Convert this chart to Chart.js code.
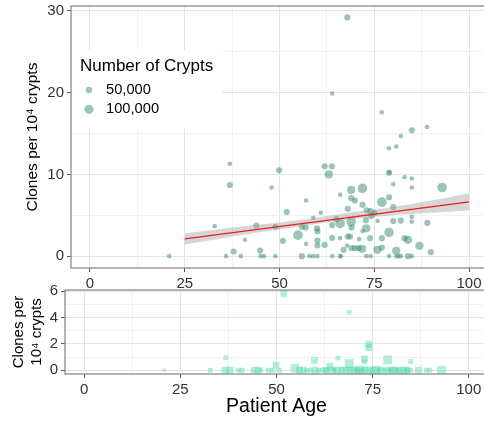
<!DOCTYPE html>
<html lang="en">
<head>
<meta charset="UTF-8">
<title>Clones per 10⁴ crypts by patient age</title>
<script src="https://cdn.jsdelivr.net/npm/chart.js"></script>
<style>
  html, body { margin: 0; padding: 0; background: #fff; overflow: hidden; }
  #wrap { position: relative; width: 484px; height: 425px; overflow: hidden; }
  canvas { position: absolute; left: 0; }
  #topChart { top: 0; }
  #bottomChart { top: 280px; }
</style>
</head>
<body>
<div id="wrap">
  <canvas id="topChart" width="488" height="292"></canvas>
  <canvas id="bottomChart" width="488" height="145"></canvas>
</div>
<script>
// upper panel: one bubble per patient
const ages = [
  20.9, 32.9, 36.9, 36.9, 35.9, 37.9, 39.8, 67.9, 63.9, 77.0,
  88.9, 84.9, 82.0, 78.9, 80.8, 49.9, 61.9, 63.8, 63.0, 78.9,
  79.0, 83.0, 84.9, 84.9, 80.0, 92.9, 47.9, 68.9, 71.9, 66.0,
  78.9, 68.9, 69.9, 57.0, 77.0, 71.9, 80.0, 68.0, 51.9, 60.9,
  73.0, 74.0, 75.0, 74.2, 84.9, 58.9, 75.9, 80.0, 82.0, 84.9,
  89.0, 65.0, 66.0, 68.9, 63.9, 72.8, 48.9, 55.9, 56.9, 59.9,
  69.0, 72.9, 71.9, 78.9, 60.0, 43.9, 40.9, 54.9, 63.9, 66.0,
  68.0, 68.6, 71.0, 73.9, 77.0, 83.0, 83.9, 50.9, 60.0, 57.0,
  60.0, 61.9, 86.9, 44.9, 66.9, 69.0, 69.9, 70.9, 71.8, 75.8,
  77.0, 80.8, 89.9, 67.8, 45.0, 45.9, 48.9, 55.9, 57.9, 58.9,
  60.0, 63.9, 66.0, 66.2, 72.9, 74.0, 78.9, 80.8, 81.4, 82.0, 83.9, 84.9
];
const clones = [
  0, 3.67, 11.3, 8.7, 0, 0.57, 0, 29.2, 19.9, 17.6,
  15.8, 15.4, 14.7, 13.2, 13.4, 10.5, 11.0, 11.0, 10.0, 10.2,
  10.3, 9.66, 9.5, 8.4, 8.8, 8.4, 8.4, 8.1, 8.3, 7.5,
  7.2, 7.1, 6.8, 6.8, 6.6, 6.3, 6.0, 5.8, 5.4, 5.3,
  5.6, 5.5, 5.26, 4.9, 4.8, 4.7, 4.3, 4.3, 4.35, 4.2,
  4.07, 4.5, 4.0, 4.2, 3.8, 4.4, 3.6, 3.6, 3.5, 3.4,
  3.5, 3.4, 3.05, 2.9, 3.05, 3.74, 2.0, 2.57, 2.24, 2.2,
  2.4, 2.4, 2.08, 2.2, 2.2, 2.2, 2.0, 1.87, 1.9, 1.5,
  1.3, 1.38, 1.26, 0.68, 0.77, 1.0, 1.0, 1.0, 0.9, 0.77,
  1.05, 0.65, 0.49, 1.3, 0, 0, 0, 0, 0, 0,
  0, 0, 0, 0, 0, 0, 0, 0, 0, 0, 0, 0
];
const crypts = [
  25000, 25000, 25000, 45000, 25000, 45000, 25000, 45000, 25000, 25000,
  25000, 45000, 25000, 25000, 25000, 45000, 45000, 45000, 80000, 45000,
  25000, 25000, 25000, 25000, 25000, 110000, 25000, 80000, 110000, 25000,
  45000, 45000, 45000, 25000, 110000, 45000, 45000, 45000, 45000, 25000,
  45000, 45000, 45000, 45000, 25000, 25000, 25000, 45000, 45000, 25000,
  45000, 45000, 110000, 110000, 45000, 45000, 45000, 45000, 45000, 45000,
  45000, 80000, 25000, 110000, 45000, 45000, 25000, 110000, 45000, 25000,
  45000, 45000, 25000, 45000, 45000, 45000, 80000, 45000, 45000, 25000,
  45000, 45000, 80000, 45000, 45000, 45000, 45000, 45000, 80000, 80000,
  45000, 80000, 45000, 25000, 25000, 25000, 25000, 45000, 25000, 25000,
  25000, 25000, 25000, 25000, 25000, 25000, 25000, 25000, 25000, 25000, 45000, 25000
];

// lower panel
const lowAges = [
  20.8, 32.8, 36.8, 36.6, 37.9, 40.1, 41.0, 44.2, 45.2, 45.9,
  47.9, 49.9, 48.9, 50.8, 51.9, 54.8, 56.0, 57.0, 57.9, 58.9,
  59.9, 60.0, 61.8, 62.9, 63.9, 64.5, 66.0, 66.0, 67.0, 68.0,
  68.9, 68.9, 69.0, 69.9, 70.9, 71.8, 72.9, 72.9, 73.0, 74.0,
  74.0, 74.0, 75.0, 75.8, 77.0, 78.0, 78.9, 78.9, 80.0, 80.8,
  82.0, 83.0, 83.9, 84.9, 84.9, 86.9, 89.0, 89.9, 92.9,
  60.9, 63.0, 65.0, 71.0, 72.0, 76.5, 79.5, 81.4, 84.0
];
const lowClones = [
  0, 0, 0.96, 0, 0, 0, 0, 0, 0, 0,
  0, 0.38, 0, 0, 5.8, 0.15, 0, 0, 0, 0,
  0.74, 0, 0, 0, 0.3, 0, 0.92, 0, 0, 0,
  4.4, 0.5, 0, 0, 0, 0, 0.85, 0.65, 0, 1.97,
  1.72, 0, 0, 0, 0, 0, 0.78, 0, 0, 0,
  0, 0, 0, 0.66, 0, 0, 0, 0, 0,
  0, 0, 0, 0, 0, 0, 0, 0, 0
];
const lowCrypts = [
  20000, 45000, 45000, 90000, 90000, 45000, 45000, 90000, 90000, 45000,
  45000, 90000, 45000, 45000, 90000, 150000, 90000, 90000, 45000, 45000,
  90000, 90000, 45000, 90000, 90000, 90000, 45000, 90000, 90000, 90000,
  45000, 150000, 90000, 90000, 90000, 150000, 90000, 45000, 90000, 90000,
  90000, 90000, 90000, 150000, 90000, 45000, 150000, 90000, 90000, 90000,
  90000, 90000, 90000, 45000, 45000, 90000, 45000, 45000, 150000,
  45000, 45000, 45000, 45000, 45000, 45000, 45000, 45000, 45000
];

// linear fit and its confidence band
const fitAges = [25, 100];
const fitValues = [2.1, 6.65];
const bandAges = [25, 40, 55, 67, 80, 90, 100];
const bandLower = [1.42, 2.6, 3.6, 4.42, 5.0, 5.3, 5.58];
const bandUpper = [2.78, 3.62, 4.4, 5.22, 6.0, 6.8, 7.7];

const xTicks = [0, 25, 50, 75, 100];
const topYTicks = [0, 10, 20, 30];
const lowYTicks = [0, 2, 4, 6];
const legendCrypts = [50000, 100000];

const FONT = '"Liberation Sans", Arial, Helvetica, sans-serif';
const pointColor = 'rgba(60, 140, 112, 0.5)';
const squareColor = 'rgba(80, 220, 170, 0.45)';
const bandColor = 'rgba(153, 153, 153, 0.4)';
const majorGrid = '#e4e4e4';
const minorGrid = '#f1f1f1';
const tickText = '#333';

const bubbleRadius = n => 3.25 * Math.sqrt(n / 50000);
const squareRadius = n => 3.6 * Math.sqrt(n / 50000);

// major breaks plus the midpoints between them (minor grid)
function withMinor(majors) {
  const out = [];
  majors.forEach((v, i) => {
    out.push({ value: v });
    if (i < majors.length - 1) out.push({ value: (v + majors[i + 1]) / 2 });
  });
  return out;
}

function axis(majors, min, max, extra) {
  return Object.assign({
    type: 'linear',
    min: min,
    max: max,
    afterBuildTicks: s => { s.ticks = withMinor(majors); },
    border: { display: false },
    grid: {
      color: c => majors.includes(c.tick.value) ? majorGrid : minorGrid,
      lineWidth: 1,
      tickLength: 4,
      tickColor: c => majors.includes(c.tick.value) ? '#555' : 'rgba(0,0,0,0)'
    },
    ticks: {
      autoSkip: false,
      maxRotation: 0,
      padding: 3,
      color: tickText,
      font: { family: FONT, size: 15 },
      callback: v => majors.includes(v) ? String(v) : ''
    }
  }, extra);
}

const panelBorder = {
  id: 'panelBorder',
  afterDraw(chart) {
    const { ctx, chartArea: a } = chart;
    ctx.save();
    ctx.strokeStyle = '#808080';
    ctx.lineWidth = 1.2;
    ctx.strokeRect(a.left, a.top, a.right - a.left, a.bottom - a.top);
    ctx.restore();
  }
};

// size legend sitting inside the upper panel
const cryptLegend = {
  id: 'cryptLegend',
  beforeDatasetsDraw(chart) {
    const { ctx, chartArea: a } = chart;
    const x0 = a.left + 2, y0 = 50;
    ctx.save();
    ctx.fillStyle = '#fff';
    ctx.fillRect(x0, y0, 149, 78);
    ctx.textBaseline = 'middle';
    ctx.fillStyle = '#000';
    ctx.font = `17px ${FONT}`;
    ctx.fillText('Number of Crypts', x0 + 7, y0 + 16);
    ctx.font = `14.7px ${FONT}`;
    legendCrypts.forEach((n, i) => {
      const y = y0 + 40 + i * 19.3;
      ctx.fillStyle = pointColor;
      ctx.beginPath();
      ctx.arc(x0 + 16, y, bubbleRadius(n), 0, Math.PI * 2);
      ctx.fill();
      ctx.fillStyle = '#000';
      ctx.fillText(n.toLocaleString('en-US'), x0 + 33, y);
    });
    ctx.restore();
  }
};

new Chart(document.getElementById('topChart'), {
  type: 'scatter',
  data: {
    datasets: [
      {
        type: 'line',
        data: fitAges.map((x, i) => ({ x, y: fitValues[i] })),
        borderColor: '#ee1c1c',
        borderWidth: 1.3,
        pointRadius: 0,
        fill: false
      },
      {
        type: 'line',
        data: bandAges.map((x, i) => ({ x, y: bandUpper[i] })),
        borderColor: 'rgba(0,0,0,0)',
        borderWidth: 0,
        pointRadius: 0,
        tension: 0.3,
        fill: '+1',
        backgroundColor: bandColor
      },
      {
        type: 'line',
        data: bandAges.map((x, i) => ({ x, y: bandLower[i] })),
        borderColor: 'rgba(0,0,0,0)',
        borderWidth: 0,
        pointRadius: 0,
        tension: 0.3,
        fill: false
      },
      {
        data: ages.map((x, i) => ({ x, y: clones[i] })),
        backgroundColor: pointColor,
        borderWidth: 0,
        pointRadius: crypts.map(bubbleRadius),
        pointHoverRadius: crypts.map(bubbleRadius)
      }
    ]
  },
  options: {
    responsive: false,
    devicePixelRatio: 1,
    animation: false,
    events: [],
    layout: { autoPadding: false, padding: { top: 6, left: 0, right: 0, bottom: 0 } },
    plugins: { legend: { display: false }, tooltip: { enabled: false } },
    scales: {
      x: axis(xTicks, -5, 105, {
        afterFit: s => { s.height = 24; s.paddingLeft = 0; s.paddingRight = 0; }
      }),
      y: axis(topYTicks, -1.45, 30.6, {
        afterFit: s => { s.width = 71; s.paddingTop = 0; s.paddingBottom = 0; },
        title: {
          display: true,
          text: 'Clones per 10⁴ crypts',
          color: '#000',
          font: { family: FONT, size: 15.5 },
          padding: { top: 23, bottom: 0 }
        }
      })
    }
  },
  plugins: [panelBorder, cryptLegend]
});

new Chart(document.getElementById('bottomChart'), {
  type: 'scatter',
  data: {
    datasets: [{
      data: lowAges.map((x, i) => ({ x, y: lowClones[i] })),
      backgroundColor: squareColor,
      borderWidth: 0,
      pointStyle: 'rect',
      pointRadius: lowCrypts.map(squareRadius),
      pointHoverRadius: lowCrypts.map(squareRadius)
    }]
  },
  options: {
    responsive: false,
    devicePixelRatio: 1,
    animation: false,
    events: [],
    layout: { autoPadding: false, padding: { top: 10, left: 0, right: 0, bottom: 0 } },
    plugins: { legend: { display: false }, tooltip: { enabled: false } },
    scales: {
      x: axis(xTicks, -5, 105, {
        afterFit: s => { s.height = 51; s.paddingLeft = 0; s.paddingRight = 0; },
        title: {
          display: true,
          text: 'Patient Age',
          color: '#000',
          font: { family: FONT, size: 19.5 },
          padding: { top: 0, bottom: 6.6 }
        }
      }),
      y: axis(lowYTicks, -0.29, 6.09, {
        afterFit: s => { s.width = 65; s.paddingTop = 0; s.paddingBottom = 0; },
        title: {
          display: true,
          text: ['Clones per', '10⁴ crypts'],
          color: '#000',
          font: { family: FONT, size: 15 },
          padding: { top: 10, bottom: 0 }
        }
      })
    }
  },
  plugins: [panelBorder]
});
</script>
</body>
</html>
